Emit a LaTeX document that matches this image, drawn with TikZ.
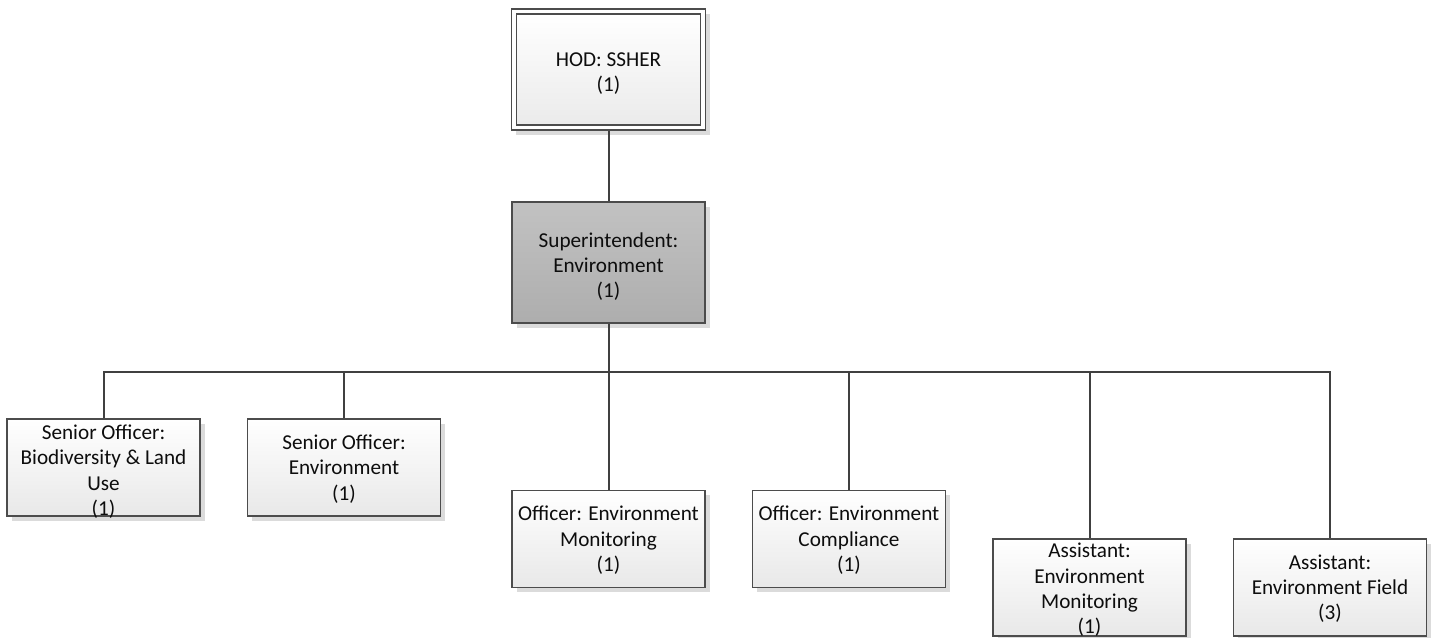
\documentclass[tikz,border=0pt]{standalone}
\usepackage{fontspec}
\setmainfont{Carlito}
\usetikzlibrary{shadows}
\begin{document}
\begin{tikzpicture}[x=0.75pt,y=-0.75pt,
  boxline/.style={draw=black!70, line width=0.8pt},
  shad/.style={drop shadow={shadow xshift=3.5pt,shadow yshift=-3.5pt,fill=black!14,opacity=1}},
  childbox/.style={boxline, shad, top color=white, bottom color=black!9, minimum width=144.75pt, minimum height=72.75pt, inner sep=0pt},
  supbox/.style={boxline, shad, top color=black!24, bottom color=black!32, minimum width=144.75pt, minimum height=90.75pt, inner sep=0pt},
  hodouter/.style={boxline, shad, fill=white, minimum width=145.5pt, minimum height=90.75pt, inner sep=0pt},
  hodinner/.style={boxline, top color=white, bottom color=black!8, minimum width=138pt, minimum height=83.25pt, inner sep=0pt},
  lbl/.style={align=center, font=\fontsize{15.9}{19}\selectfont, text=black!95, inner sep=0pt},
  conn/.style={draw=black!75, line width=1.5pt}]
\useasboundingbox (0,0) rectangle (1436,638);

% boxes
\node[hodouter] (hod) at (608.5,69.5) {};
\node[hodinner] (hodin) at (hod) {};
\node[supbox] (sup) at (608.5,262.5) {};
\node[childbox] (c1) at (103.5,467.5) {};
\node[childbox] (c2) at (344,467.5) {};
\node[childbox] (c3) at (608.5,539) {};
\node[childbox] (c4) at (849,539) {};
\node[childbox] (c5) at (1089.5,587.5) {};
\node[childbox] (c6) at (1330,587.5) {};

% connectors
\coordinate (bus) at ([yshift=-36pt]sup.south);
\draw[conn] (hod.south) -- (sup.north);
\draw[conn] (sup.south) -- (bus);
\draw[conn] (c1.north) -- (c1.north |- bus) -- (c6.north |- bus) -- (c6.north);
\draw[conn] (c2.north) -- (c2.north |- bus);
\draw[conn] (c3.north) -- (c3.north |- bus);
\draw[conn] (c4.north) -- (c4.north |- bus);
\draw[conn] (c5.north) -- (c5.north |- bus);

% labels
\node[lbl] (thod) at ([yshift=-3pt]hod.center) {HOD: SSHER\\(1)};
\node[lbl] (tsup) at ([yshift=-3pt]sup.center) {Superintendent:\\Environment\\(1)};
\node[lbl] (t1) at ([yshift=-3pt]c1.center) {Senior Officer:\\Biodiversity \& Land\\Use\\(1)};
\node[lbl] (t2) at ([yshift=-1pt]c2.center) {Senior Officer:\\Environment\\(1)};
\node[lbl] (t3) at ([yshift=-1pt]c3.center) {Officer: Environment\\Monitoring\\(1)};
\node[lbl] (t4) at ([yshift=-1pt]c4.center) {Officer: Environment\\Compliance\\(1)};
\node[lbl] (t5) at ([yshift=-2pt]c5.center) {Assistant:\\Environment\\Monitoring\\(1)};
\node[lbl] (t6) at ([yshift=-1pt]c6.center) {Assistant:\\Environment Field\\(3)};
\end{tikzpicture}
\end{document}
